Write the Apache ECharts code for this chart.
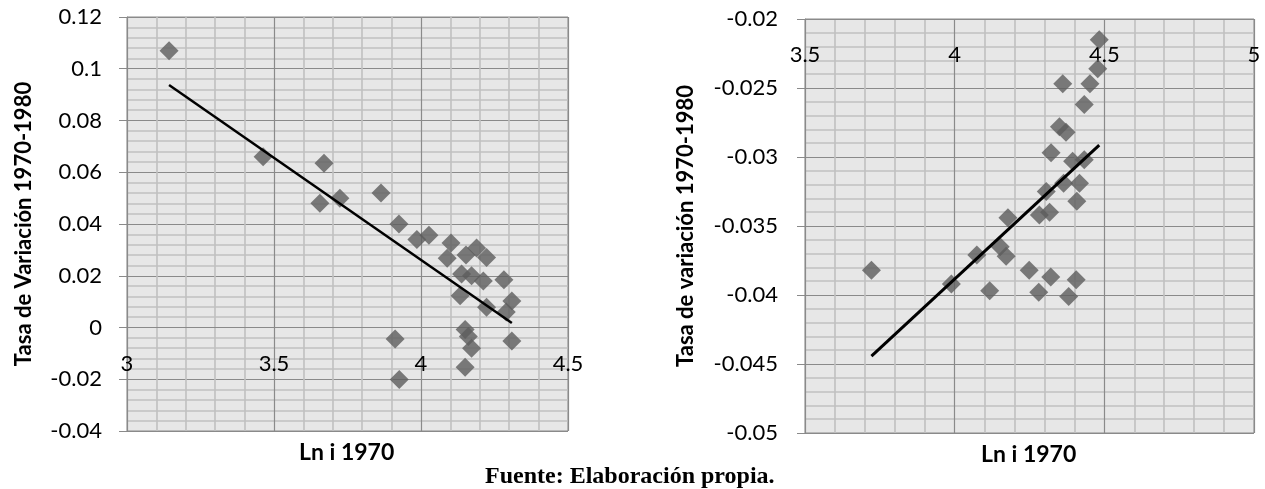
<!DOCTYPE html>
<html>
<head>
<meta charset="utf-8">
<script src="https://cdn.jsdelivr.net/npm/echarts@6/dist/echarts.min.js"></script>
<style>
  html, body { margin: 0; padding: 0; background: #ffffff; }
  #chart { width: 1265px; height: 489px; }
</style>
</head>
<body>
<div id="chart"></div>
<script>
// left panel: Ln i 1970 vs tasa de variación
const leftX = [3.143, 3.463, 3.670, 3.656, 3.724, 3.864, 3.925, 3.986, 4.027, 4.102,
  4.089, 4.153, 4.189, 4.223, 4.138, 4.172, 4.212, 4.282, 4.133, 4.223,
  4.309, 4.290, 3.912, 4.150, 4.161, 4.172, 4.309, 3.926, 4.150];
const leftY = [0.107, 0.066, 0.0635, 0.048, 0.050, 0.052, 0.040, 0.034, 0.0357, 0.0327,
  0.0268, 0.028, 0.0307, 0.0271, 0.0207, 0.020, 0.018, 0.0185, 0.0123, 0.0078,
  0.0102, 0.006, -0.0044, -0.0008, -0.0035, -0.008, -0.0052, -0.0201, -0.0154];

// right panel
const rightX = [4.483, 4.478, 4.452, 4.361, 4.433, 4.350, 4.372, 4.322, 4.394, 4.433,
  4.364, 4.417, 4.408, 4.306, 4.283, 4.317, 4.178, 4.152, 4.172, 4.074,
  3.722, 4.249, 4.321, 4.406, 3.989, 4.117, 4.281, 4.381];
const rightY = [-0.0215, -0.0236, -0.0247, -0.0247, -0.0262, -0.0278, -0.0282, -0.0297, -0.0303, -0.0302,
  -0.0319, -0.0319, -0.0332, -0.0325, -0.0342, -0.0340, -0.0344, -0.0365, -0.0372, -0.0371,
  -0.0382, -0.0382, -0.0387, -0.0389, -0.0392, -0.0397, -0.0398, -0.0401];

// linear trend (least squares), drawn from min x to max x
function trend(xs, ys) {
  const n = xs.length;
  const mx = xs.reduce((a, b) => a + b, 0) / n;
  const my = ys.reduce((a, b) => a + b, 0) / n;
  let sxy = 0, sxx = 0;
  for (let i = 0; i < n; i++) {
    sxy += (xs[i] - mx) * (ys[i] - my);
    sxx += (xs[i] - mx) * (xs[i] - mx);
  }
  const b = sxy / sxx;
  const a = my - b * mx;
  const x0 = Math.min(...xs), x1 = Math.max(...xs);
  return [[x0, a + b * x0], [x1, a + b * x1]];
}

const pairs = (xs, ys) => xs.map((x, i) => [x, ys[i]]);

const font = "Lato, 'Noto Sans', sans-serif";
const major = { lineStyle: { color: "#8a8a8a", width: 1.2 } };
const minor = { show: true, lineStyle: { color: "#c0c0c0", width: 1.6 } };

const chart = echarts.init(document.getElementById("chart"));
chart.setOption({
  animation: false,
  grid: [
    { left: 127, top: 17, width: 441, height: 414, show: true, backgroundColor: "#e7e7e7", borderColor: "#8a8a8a", borderWidth: 1 },
    { left: 805, top: 19, width: 449, height: 414, show: true, backgroundColor: "#e7e7e7", borderColor: "#8a8a8a", borderWidth: 1 },
  ],
  xAxis: [
    {
      // axis crosses at y = 0 (like the original), moved up from the grid bottom
      gridIndex: 0, type: "value", min: 3, max: 4.5, interval: 0.5,
      position: "bottom", offset: -104,
      axisLine: { show: true, onZero: false, lineStyle: { color: "#8a8a8a" } },
      axisTick: { show: false },
      axisLabel: { color: "#000", fontFamily: font, fontSize: 22, margin: 26 },
      splitLine: major,
      minorTick: { show: false, splitNumber: 5 },
      minorSplitLine: minor,
    },
    {
      gridIndex: 1, type: "value", min: 3.5, max: 5, interval: 0.5,
      position: "top",
      axisLine: { show: true, onZero: false, lineStyle: { color: "#8a8a8a" } },
      axisTick: { show: false },
      axisLabel: { inside: true, color: "#000", fontFamily: font, fontSize: 22, margin: 25 },
      splitLine: major,
      minorTick: { show: false, splitNumber: 5 },
      minorSplitLine: minor,
    },
  ],
  yAxis: [
    {
      gridIndex: 0, type: "value", min: -0.04, max: 0.12, interval: 0.02,
      name: "Tasa de Variación 1970-1980", nameLocation: "middle", nameGap: 92,
      nameTextStyle: { color: "#000", fontFamily: font, fontSize: 22, fontWeight: "bold" },
      axisLine: { show: true, lineStyle: { color: "#8a8a8a" } },
      axisTick: { show: true, length: 8, lineStyle: { color: "#8a8a8a" } },
      axisLabel: { color: "#000", fontFamily: font, fontSize: 22, margin: 25 },
      splitLine: major,
      minorTick: { show: false, splitNumber: 5 },
      minorSplitLine: minor,
    },
    {
      gridIndex: 1, type: "value", min: -0.05, max: -0.02, interval: 0.005,
      name: "Tasa de variación 1970-1980", nameLocation: "middle", nameGap: 108,
      nameTextStyle: { color: "#000", fontFamily: font, fontSize: 22, fontWeight: "bold" },
      axisLine: { show: true, lineStyle: { color: "#8a8a8a" } },
      axisTick: { show: true, length: 8, lineStyle: { color: "#8a8a8a" } },
      axisLabel: { color: "#000", fontFamily: font, fontSize: 22, margin: 27 },
      splitLine: major,
      minorTick: { show: false, splitNumber: 5 },
      minorSplitLine: minor,
    },
  ],
  series: [
    {
      type: "scatter", xAxisIndex: 0, yAxisIndex: 0,
      data: pairs(leftX, leftY),
      symbol: "diamond", symbolSize: 19,
      itemStyle: { color: "#5d5d5d" },
    },
    {
      type: "line", xAxisIndex: 0, yAxisIndex: 0, z: 5,
      data: trend(leftX, leftY),
      symbol: "none",
      lineStyle: { color: "#000", width: 2.5 },
    },
    {
      type: "scatter", xAxisIndex: 1, yAxisIndex: 1,
      data: pairs(rightX, rightY),
      symbol: "diamond", symbolSize: 19,
      itemStyle: { color: "#5d5d5d" },
    },
    {
      type: "line", xAxisIndex: 1, yAxisIndex: 1, z: 5,
      data: trend(rightX, rightY),
      symbol: "none",
      lineStyle: { color: "#000", width: 3 },
    },
  ],
  graphic: [
    { type: "text", left: 347 - 48, top: 441, style: { text: "Ln i 1970", fill: "#000", font: "bold 23px " + font } },
    { type: "text", left: 1029 - 48, top: 443, style: { text: "Ln i 1970", fill: "#000", font: "bold 23px " + font } },
    { type: "text", left: 485, top: 465, style: { text: "Fuente: Elaboración propia.", fill: "#000", font: "bold 24px 'Liberation Serif', 'DejaVu Serif', serif" } },
  ],
});
</script>
</body>
</html>
